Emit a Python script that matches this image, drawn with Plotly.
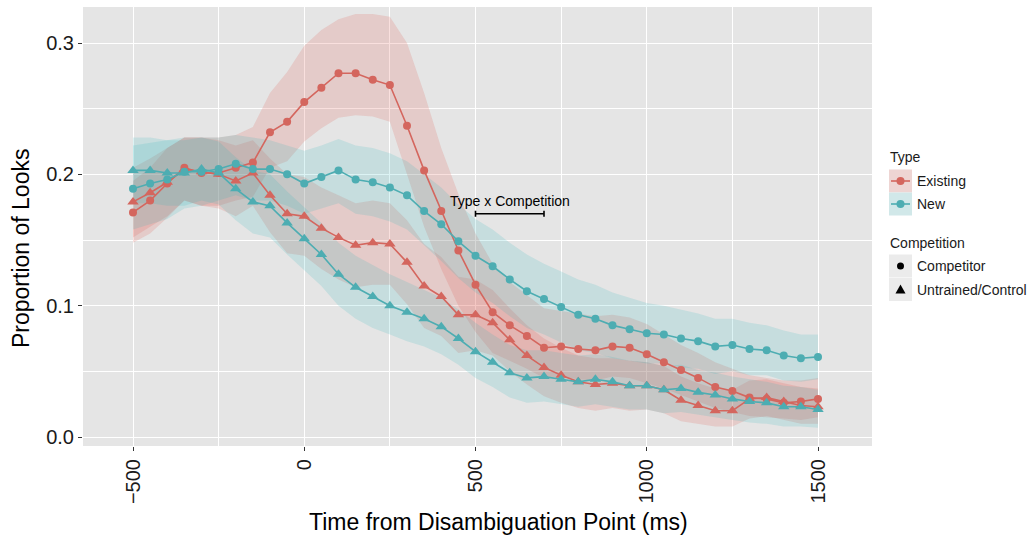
import plotly.graph_objects as go

# ---------------- data ----------------
time_ms = list(range(-500, 1501, 50))

existing_competitor = [0.171, 0.180, 0.193, 0.205, 0.201, 0.201, 0.205, 0.209, 0.232, 0.240,
                       0.255, 0.266, 0.277, 0.277, 0.272, 0.268, 0.237, 0.203, 0.172, 0.142,
                       0.116, 0.095, 0.085, 0.077, 0.068, 0.069, 0.067, 0.066, 0.069, 0.068,
                       0.063, 0.057, 0.051, 0.045, 0.038, 0.035, 0.030, 0.029, 0.026, 0.027, 0.029]
existing_competitor_hi = [0.195, 0.205, 0.220, 0.228, 0.228, 0.228, 0.230, 0.236, 0.262, 0.278,
                          0.298, 0.310, 0.318, 0.322, 0.322, 0.320, 0.300, 0.262, 0.220, 0.185,
                          0.155, 0.132, 0.118, 0.108, 0.098, 0.096, 0.094, 0.092, 0.093, 0.091,
                          0.086, 0.078, 0.070, 0.064, 0.057, 0.052, 0.047, 0.045, 0.043, 0.043, 0.045]
existing_competitor_lo = [0.148, 0.155, 0.167, 0.180, 0.176, 0.176, 0.180, 0.183, 0.205, 0.210,
                          0.225, 0.235, 0.243, 0.245, 0.244, 0.240, 0.200, 0.160, 0.128, 0.100,
                          0.080, 0.064, 0.058, 0.052, 0.045, 0.046, 0.044, 0.043, 0.046, 0.045,
                          0.041, 0.037, 0.032, 0.027, 0.022, 0.019, 0.016, 0.015, 0.014, 0.013, 0.015]

existing_untrained = [0.179, 0.186, 0.194, 0.204, 0.202, 0.200, 0.195, 0.201, 0.184, 0.170,
                      0.168, 0.159, 0.152, 0.146, 0.148, 0.147, 0.133, 0.115, 0.107, 0.093,
                      0.093, 0.087, 0.074, 0.062, 0.053, 0.047, 0.042, 0.040, 0.041, 0.039,
                      0.039, 0.036, 0.028, 0.024, 0.020, 0.020, 0.029, 0.030, 0.027, 0.024, 0.023]
existing_untrained_hi = [0.205, 0.212, 0.220, 0.228, 0.228, 0.226, 0.222, 0.226, 0.212, 0.200,
                         0.198, 0.190, 0.184, 0.178, 0.180, 0.178, 0.165, 0.147, 0.137, 0.122,
                         0.120, 0.112, 0.098, 0.085, 0.075, 0.068, 0.062, 0.060, 0.060, 0.058,
                         0.057, 0.054, 0.046, 0.041, 0.037, 0.036, 0.043, 0.044, 0.041, 0.038, 0.037]
existing_untrained_lo = [0.152, 0.160, 0.168, 0.180, 0.176, 0.174, 0.168, 0.176, 0.156, 0.140,
                         0.138, 0.128, 0.120, 0.114, 0.116, 0.116, 0.101, 0.083, 0.077, 0.064,
                         0.066, 0.062, 0.050, 0.040, 0.031, 0.026, 0.022, 0.020, 0.022, 0.020,
                         0.021, 0.018, 0.012, 0.010, 0.008, 0.008, 0.014, 0.016, 0.013, 0.010, 0.010]

new_competitor = [0.189, 0.193, 0.196, 0.202, 0.202, 0.204, 0.208, 0.204, 0.204, 0.200,
                  0.193, 0.198, 0.203, 0.196, 0.194, 0.190, 0.184, 0.172, 0.162, 0.149,
                  0.138, 0.130, 0.120, 0.111, 0.105, 0.099, 0.093, 0.090, 0.085, 0.082,
                  0.079, 0.078, 0.075, 0.073, 0.069, 0.070, 0.067, 0.066, 0.062, 0.060, 0.061]
new_competitor_hi = [0.222, 0.224, 0.226, 0.228, 0.228, 0.228, 0.230, 0.228, 0.226, 0.222,
                     0.218, 0.222, 0.227, 0.222, 0.220, 0.216, 0.210, 0.200, 0.190, 0.177,
                     0.166, 0.158, 0.148, 0.139, 0.132, 0.126, 0.120, 0.116, 0.110, 0.106,
                     0.102, 0.100, 0.097, 0.094, 0.090, 0.090, 0.087, 0.085, 0.081, 0.078, 0.078]
new_competitor_lo = [0.158, 0.162, 0.166, 0.174, 0.176, 0.180, 0.184, 0.180, 0.180, 0.176,
                     0.170, 0.174, 0.178, 0.170, 0.168, 0.164, 0.158, 0.146, 0.134, 0.121,
                     0.110, 0.102, 0.092, 0.083, 0.078, 0.072, 0.066, 0.064, 0.060, 0.058,
                     0.056, 0.056, 0.053, 0.052, 0.048, 0.050, 0.047, 0.047, 0.043, 0.042, 0.044]

new_untrained = [0.203, 0.203, 0.201, 0.201, 0.204, 0.201, 0.189, 0.179, 0.176, 0.163,
                 0.151, 0.139, 0.124, 0.114, 0.107, 0.100, 0.095, 0.090, 0.084, 0.075,
                 0.065, 0.057, 0.049, 0.045, 0.046, 0.044, 0.042, 0.044, 0.042, 0.039,
                 0.039, 0.036, 0.037, 0.034, 0.032, 0.029, 0.027, 0.026, 0.023, 0.023, 0.021]
new_untrained_hi = [0.228, 0.228, 0.226, 0.226, 0.228, 0.225, 0.213, 0.203, 0.200, 0.187,
                    0.175, 0.163, 0.148, 0.138, 0.131, 0.124, 0.118, 0.112, 0.106, 0.097,
                    0.087, 0.078, 0.070, 0.066, 0.066, 0.064, 0.062, 0.063, 0.061, 0.058,
                    0.057, 0.054, 0.055, 0.051, 0.049, 0.046, 0.044, 0.042, 0.039, 0.038, 0.036]
new_untrained_lo = [0.178, 0.178, 0.176, 0.176, 0.180, 0.177, 0.165, 0.155, 0.152, 0.139,
                    0.127, 0.115, 0.100, 0.090, 0.083, 0.078, 0.073, 0.069, 0.063, 0.055,
                    0.045, 0.038, 0.030, 0.026, 0.027, 0.025, 0.023, 0.025, 0.023, 0.021,
                    0.021, 0.018, 0.019, 0.017, 0.015, 0.013, 0.011, 0.010, 0.008, 0.008, 0.007]

x_ticks = [-500, 0, 500, 1000, 1500]
y_ticks = [0.0, 0.1, 0.2, 0.3]

sig_label = "Type x Competition"
sig_start, sig_end, sig_y = 500, 700, 0.170

# ---------------- styling ----------------
FONT = "Liberation Sans, Arial, Helvetica, sans-serif"
RED = "#D4665E"
TEAL = "#4DADB2"
RED_FILL = "rgba(224,88,80,0.19)"
TEAL_FILL = "rgba(40,182,188,0.16)"
BG = "#E5E5E5"

W, H = 1028, 538
ML, MR, MT, MB = 83, 156, 7, 92
PW, PH = W - ML - MR, H - MT - MB


def px(xp):
    return (xp - ML) / PW


def py(yp):
    return (H - MB - yp) / PH


series = [
    ("Existing", "Competitor", existing_competitor, existing_competitor_lo, existing_competitor_hi, RED, RED_FILL, "circle", 8),
    ("Existing", "Untrained/Control", existing_untrained, existing_untrained_lo, existing_untrained_hi, RED, RED_FILL, "triangle-up", 10),
    ("New", "Competitor", new_competitor, new_competitor_lo, new_competitor_hi, TEAL, TEAL_FILL, "circle", 8),
    ("New", "Untrained/Control", new_untrained, new_untrained_lo, new_untrained_hi, TEAL, TEAL_FILL, "triangle-up", 10),
]

fig = go.Figure()

# ribbons first
for typ, comp, mean, lo, hi, col, fillcol, sym, msize in series:
    fig.add_trace(go.Scatter(
        x=time_ms + time_ms[::-1],
        y=hi + lo[::-1],
        fill="toself", fillcolor=fillcol,
        line=dict(width=0), mode="lines",
        hoverinfo="skip", showlegend=False,
    ))

# lines + points
for typ, comp, mean, lo, hi, col, fillcol, sym, msize in series:
    fig.add_trace(go.Scatter(
        x=time_ms, y=mean, mode="lines+markers",
        line=dict(color=col, width=1.6),
        marker=dict(symbol=sym, size=msize, color=col, line=dict(width=0)),
        name=f"{typ} - {comp}", showlegend=False,
    ))

# significance bar
fig.add_trace(go.Scatter(
    x=[(sig_start + sig_end) / 2], y=[sig_y], mode="markers",
    marker=dict(size=0.1, color="rgba(0,0,0,0)"),
    error_x=dict(type="data", array=[(sig_end - sig_start) / 2], color="black",
                 thickness=1.6, width=3),
    showlegend=False, hoverinfo="skip",
))
fig.add_annotation(x=(sig_start + sig_end) / 2, y=sig_y, yshift=3, text=sig_label,
                   showarrow=False, xanchor="center", yanchor="bottom",
                   font=dict(family=FONT, size=14, color="black"))

# axes
xr0 = -500 - (133 - ML) / (685 / 2000)
xr1 = xr0 + PW / (685 / 2000)
yr0 = -(446 - 437) / 1313.3
yr1 = yr0 + PH / 1313.3

fig.update_xaxes(
    range=[xr0, xr1], tickmode="array", tickvals=x_ticks,
    ticktext=[f"\u2212{abs(v)}" if v < 0 else str(v) for v in x_ticks],
    tickangle=-90, ticks="outside", ticklen=4, tickwidth=1, tickcolor="#333333",
    tickfont=dict(family=FONT, size=20, color="#1a1a1a"),
    showgrid=True, gridcolor="white", gridwidth=1.3, zeroline=False, showline=False,
    minor=dict(tickmode="array", tickvals=[-250, 250, 750, 1250], showgrid=True,
               gridcolor="white", gridwidth=0.6, ticks=""),
)
fig.update_yaxes(
    range=[yr0, yr1], tickmode="array", tickvals=y_ticks,
    ticktext=[f"{v:.1f}" for v in y_ticks],
    ticks="outside", ticklen=4, tickwidth=1, tickcolor="#333333",
    tickfont=dict(family=FONT, size=20, color="#1a1a1a"),
    showgrid=True, gridcolor="white", gridwidth=1.3, zeroline=False, showline=False,
    minor=dict(tickmode="array", tickvals=[0.05, 0.15, 0.25], showgrid=True,
               gridcolor="white", gridwidth=0.6, ticks=""),
)

# axis titles
fig.add_annotation(xref="paper", yref="paper", x=px(21), y=py(249), text="Proportion of Looks",
                   textangle=-90, showarrow=False, xanchor="center", yanchor="middle",
                   font=dict(family=FONT, size=23, color="black"))
fig.add_annotation(xref="paper", yref="paper", x=px(498), y=py(522),
                   text="Time from Disambiguation Point (ms)",
                   showarrow=False, xanchor="center", yanchor="middle",
                   font=dict(family=FONT, size=23, color="black"))

# ---------------- manual legend ----------------
shapes = []
annos = []
LFONT = dict(family=FONT, size=14, color="#1a1a1a")
kx0, kx1 = 889, 912
kc = (kx0 + kx1) / 2

annos.append(dict(xref="paper", yref="paper", x=px(888), y=py(157), text="Type",
                  showarrow=False, xanchor="left", yanchor="middle", font=LFONT))
for label, col, fillcol, yc in [("Existing", RED, RED_FILL, 181), ("New", TEAL, TEAL_FILL, 204)]:
    shapes.append(dict(type="rect", xref="paper", yref="paper", x0=px(kx0), x1=px(kx1),
                       y0=py(yc - 11.5), y1=py(yc + 11.5), fillcolor="#F2F2F2", line=dict(width=0)))
    shapes.append(dict(type="rect", xref="paper", yref="paper", x0=px(kx0), x1=px(kx1),
                       y0=py(yc - 11.5), y1=py(yc + 11.5), fillcolor=fillcol, line=dict(width=0)))
    shapes.append(dict(type="line", xref="paper", yref="paper", x0=px(kx0 + 2), x1=px(kx1 - 2),
                       y0=py(yc), y1=py(yc), line=dict(color=col, width=1.6)))
    shapes.append(dict(type="circle", xref="paper", yref="paper", x0=px(kc - 4), x1=px(kc + 4),
                       y0=py(yc - 4), y1=py(yc + 4), fillcolor=col, line=dict(width=0)))
    annos.append(dict(xref="paper", yref="paper", x=px(915), y=py(yc), text=label,
                      showarrow=False, xanchor="left", yanchor="middle", font=LFONT))

annos.append(dict(xref="paper", yref="paper", x=px(888), y=py(243), text="Competition",
                  showarrow=False, xanchor="left", yanchor="middle", font=LFONT))
for label, kind, yc in [("Competitor", "circle", 266), ("Untrained/Control", "triangle", 289.5)]:
    shapes.append(dict(type="rect", xref="paper", yref="paper", x0=px(kx0), x1=px(kx1),
                       y0=py(yc - 11.5), y1=py(yc + 11.5), fillcolor="#EBEBEB", line=dict(width=0)))
    if kind == "circle":
        shapes.append(dict(type="circle", xref="paper", yref="paper", x0=px(kc - 3.5), x1=px(kc + 3.5),
                           y0=py(yc - 3.5), y1=py(yc + 3.5), fillcolor="black", line=dict(width=0)))
    else:
        path = (f"M {px(kc - 5)} {py(yc + 4)} L {px(kc + 5)} {py(yc + 4)} "
                f"L {px(kc)} {py(yc - 5)} Z")
        shapes.append(dict(type="path", xref="paper", yref="paper", path=path,
                           fillcolor="black", line=dict(width=0)))
    annos.append(dict(xref="paper", yref="paper", x=px(915), y=py(yc), text=label,
                      showarrow=False, xanchor="left", yanchor="middle", font=LFONT))

for s in shapes:
    fig.add_shape(**s)
for a in annos:
    fig.add_annotation(**a)

fig.update_layout(
    width=W, height=H,
    margin=dict(l=ML, r=MR, t=MT, b=MB, pad=0),
    plot_bgcolor=BG, paper_bgcolor="white",
    font=dict(family=FONT, color="#1a1a1a"),
    showlegend=False,
)

fig.write_html("out.html")
